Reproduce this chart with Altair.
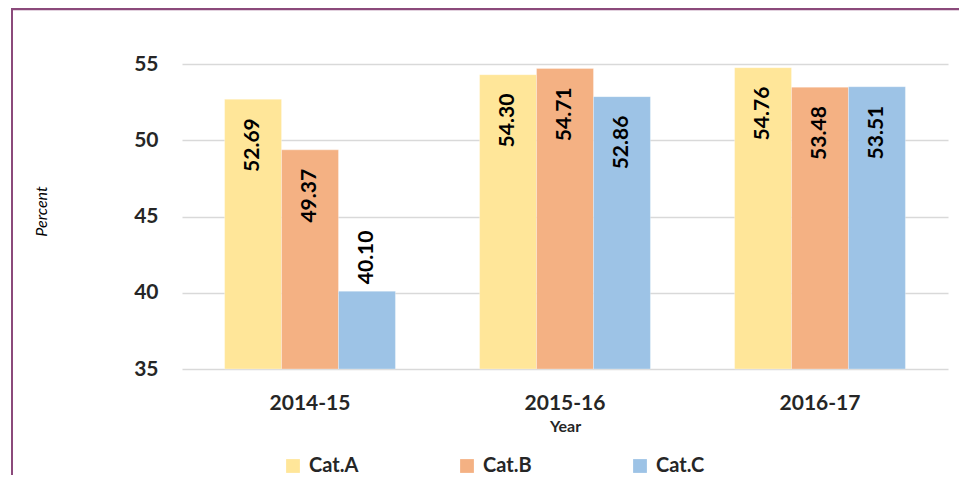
import altair as alt
import pandas as pd

years = ["2014-15", "2015-16", "2016-17"]
cats = ["Cat.A", "Cat.B", "Cat.C"]
cat_a = [52.69, 54.30, 54.76]
cat_b = [49.37, 54.71, 53.48]
cat_c = [40.10, 52.86, 53.51]
colors = ["#FFE699", "#F4B183", "#9DC3E6"]
y_ticks = [35, 40, 45, 50, 55]

rows = []
for i, y in enumerate(years):
    for c, vals in zip(cats, [cat_a, cat_b, cat_c]):
        rows.append({"Year": y, "Cat": c, "value": vals[i]})
df = pd.DataFrame(rows)

FONT = "Lato"
FS = 21

base = alt.Chart(df).encode(
    x=alt.X("Year:N", sort=years,
            scale=alt.Scale(paddingInner=0.33, paddingOuter=0.167),
            axis=alt.Axis(title="Year", labelAngle=0, labelFontSize=FS, labelFontWeight="bold",
                          labelColor="#262626", labelPadding=23, ticks=False, domain=False,
                          grid=False, titleFontSize=16, titleFontWeight="bold",
                          titleColor="#262626", titlePadding=5, labelFont=FONT, titleFont=FONT)),
    xOffset=alt.XOffset("Cat:N", sort=cats, scale=alt.Scale(paddingInner=0, paddingOuter=0)),
)

bars = base.mark_bar(stroke="white", strokeWidth=0.5, strokeOpacity=0.6).encode(
    y=alt.Y("value:Q", scale=alt.Scale(domain=[35, 55], zero=False, nice=False),
            axis=alt.Axis(values=y_ticks, title="Percent", labelFontSize=FS, labelFontWeight="bold",
                          labelColor="#262626", labelPadding=24, ticks=False, domain=False,
                          grid=True, gridColor="#d9d9d9", gridWidth=1.5,
                          titleFontStyle="italic", titleFontWeight="normal", titleFontSize=16,
                          titleColor="#000000", titleX=-141, titleY=147, titleAngle=270,
                          titleBaseline="middle", labelFont=FONT, titleFont=FONT)),
    y2=alt.datum(35),
    color=alt.Color("Cat:N", sort=cats, scale=alt.Scale(domain=cats, range=colors),
                    legend=alt.Legend(title=None, orient="none", direction="horizontal",
                                      legendX=101, legendY=392, symbolType="square",
                                      symbolSize=190, symbolStrokeWidth=0, labelFontSize=20,
                                      labelFontWeight="bold", labelColor="#262626",
                                      columnPadding=98, labelOffset=6, labelFont=FONT)),
)

inside = base.transform_filter(alt.datum.value >= 42).mark_text(
    angle=270, align="right", baseline="middle", dx=-19, fontSize=FS, fontWeight="bold",
    color="#000000", font=FONT
).encode(y=alt.Y("value:Q"), text=alt.Text("value:Q", format=".2f"))

outside = base.transform_filter(alt.datum.value < 42).mark_text(
    angle=270, align="left", baseline="middle", dx=7, fontSize=FS, fontWeight="bold",
    color="#000000", font=FONT
).encode(y=alt.Y("value:Q"), text=alt.Text("value:Q", format=".2f"))

border_data = alt.Data(values=[{"k": 1}])
top_line = alt.Chart(border_data).mark_rule(color="#8b4a7b", strokeWidth=2.5).encode(
    x=alt.value(-170), x2=alt.value(777), y=alt.value(-55))
left_line = alt.Chart(border_data).mark_rule(color="#8b4a7b", strokeWidth=2).encode(
    x=alt.value(-170), y=alt.value(-56), y2=alt.value(411))

chart = alt.layer(bars, inside, outside, top_line, left_line).properties(
    width=766, height=305,
    autosize=alt.AutoSizeParams(type="none"),
    padding={"left": 174, "top": 56, "right": 11, "bottom": 106},
    background="white",
).configure_view(stroke="transparent", strokeWidth=0)

chart.save("out.html", embed_options={"renderer": "svg", "actions": False})
